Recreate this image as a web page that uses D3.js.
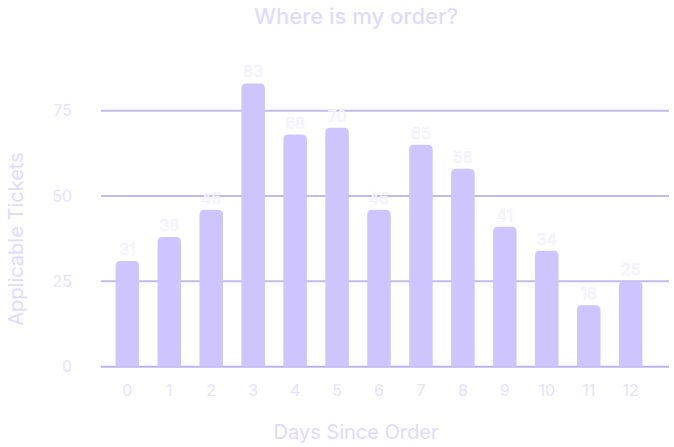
<!DOCTYPE html>
<html><head><meta charset="utf-8">
<script src="https://cdn.jsdelivr.net/npm/d3@7"></script>
<style>html,body{margin:0;padding:0;background:#fff;}svg{display:block;font-family:Inter,"Noto Sans",sans-serif;}</style>
</head><body><svg id="c" width="674" height="447"></svg>
<script>
const days = ["0","1","2","3","4","5","6","7","8","9","10","11","12"];
const tickets = [31, 38, 46, 83, 68, 70, 46, 65, 58, 41, 34, 18, 25];
const yTicks = [0, 25, 50, 75];
const title = "Where is my order?";
const xTitle = "Days Since Order";
const yTitle = "Applicable Tickets";

const svg = d3.select("#c");
const textCol = "#e6e2fd";
const x = d3.scaleBand().domain(days).range([103, 655]).paddingInner(0.44).paddingOuter(0.3);
const y = d3.scaleLinear().domain([0, 75]).range([366.7, 110.7]);

// grid
svg.append("g").selectAll("line").data(yTicks).join("line")
  .attr("x1", 101).attr("x2", 669)
  .attr("y1", d => y(d)).attr("y2", d => y(d))
  .attr("stroke", d => d === 0 ? "#bdb3ec" : "#c3b9ea").attr("stroke-width", 2);

// y tick labels
svg.append("g").selectAll("text").data(yTicks).join("text")
  .attr("x", 72).attr("y", d => y(d)).attr("dy", "0.36em")
  .attr("text-anchor", "end").attr("font-size", 16).attr("fill", textCol).text(d => d);

// bars with rounded top
const r = 5;
svg.append("g").selectAll("path").data(tickets).join("path")
  .attr("fill", "#cec4fe")
  .attr("d", (d, i) => {
    const x0 = x(days[i]), w = x.bandwidth(), yt = y(d), yb = y(0);
    return `M${x0},${yb}V${yt + r}Q${x0},${yt} ${x0 + r},${yt}H${x0 + w - r}Q${x0 + w},${yt} ${x0 + w},${yt + r}V${yb}Z`;
  });

// value labels
svg.append("g").selectAll("text").data(tickets).join("text")
  .attr("x", (d, i) => x(days[i]) + x.bandwidth() / 2)
  .attr("y", d => y(d) - 6)
  .attr("text-anchor", "middle").attr("font-size", 16)
  .attr("fill", "#ffffff").attr("stroke", "#ebe8fd").attr("stroke-width", 0.5)
  .text(d => d);

// x tick labels
svg.append("g").selectAll("text").data(days).join("text")
  .attr("x", d => x(d) + x.bandwidth() / 2).attr("y", 390).attr("dy", "0.36em")
  .attr("text-anchor", "middle").attr("font-size", 16).attr("fill", textCol).text(d => d);

// titles
svg.append("text").attr("x", 356).attr("y", 24).attr("text-anchor", "middle")
  .attr("font-size", 22).attr("font-weight", 500).attr("fill", "#e0dbfd").text(title);
svg.append("text").attr("x", 356).attr("y", 439).attr("text-anchor", "middle")
  .attr("font-size", 20).attr("font-weight", 400).attr("fill", "#e0dbfd").text(xTitle);
svg.append("text").attr("transform", "translate(23,239) rotate(-90)").attr("text-anchor", "middle")
  .attr("font-size", 20).attr("font-weight", 400).attr("fill", "#e0dbfd").text(yTitle);
</script></body></html>
